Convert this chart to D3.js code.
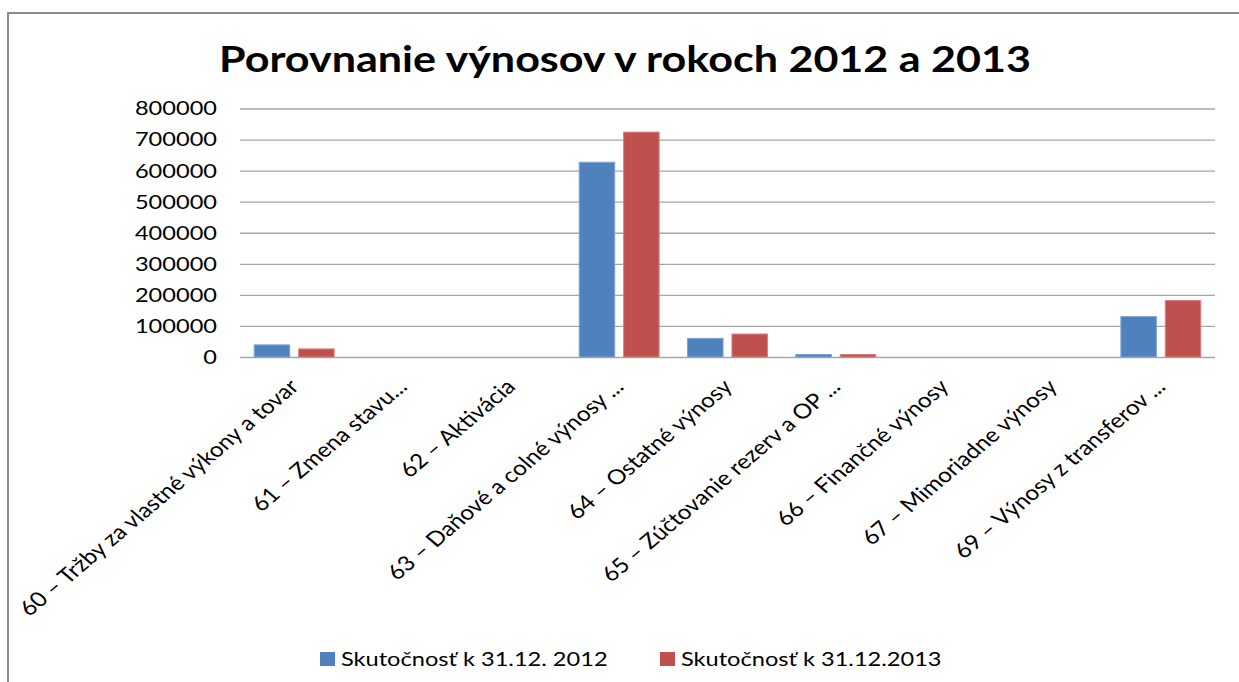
<!DOCTYPE html>
<html>
<head>
<meta charset="utf-8">
<script src="https://cdn.jsdelivr.net/npm/d3@7"></script>
<style>
  body { margin: 0; background: #fff; overflow: hidden; }
  svg { display: block; }
  text { font-family: Lato, "Open Sans", sans-serif; fill: #000; }
</style>
</head>
<body>
<div id="chart"></div>
<script>
const categories = [
  "60 – Tržby za vlastné výkony a tovar",
  "61 – Zmena stavu...",
  "62 – Aktivácia",
  "63 – Daňové a colné výnosy ...",
  "64 – Ostatné výnosy",
  "65 – Zúčtovanie rezerv a OP ...",
  "66 – Finančné výnosy",
  "67 – Mimoriadne výnosy",
  "69 – Výnosy z transferov ..."
];
const seriesNames = ["Skutočnosť k 31.12. 2012", "Skutočnosť k 31.12.2013"];
const values2012 = [39000, 0, 0, 627000, 60000, 8000, 0, 0, 130000];
const values2013 = [26000, 0, 0, 724000, 74000, 8000, 0, 0, 182000];
const yTicks = [0, 100000, 200000, 300000, 400000, 500000, 600000, 700000, 800000];
const colors = ["#4F81BD", "#C0504D"];
const strokes = ["#7fa4d3", "#d98381"];

const W = 1239, H = 682;
const stretch = 1.18; // the reference is horizontally stretched
const plot = { left: 240, right: 1215, top: 108.5, bottom: 357 };

const svg = d3.select("#chart")
  .append("svg")
  .attr("width", W)
  .attr("height", H);

// outer frame (only left and top edges are inside the picture)
svg.append("path")
  .attr("d", `M8,${H} V13 H${W}`)
  .attr("fill", "none")
  .attr("stroke", "#8c8c8c")
  .attr("stroke-width", 2);

// Title
svg.append("text")
  .attr("transform", `translate(625,72) scale(${stretch},1)`)
  .attr("text-anchor", "middle")
  .style("font-weight", "bold")
  .style("font-size", "36.5px")
  .text("Porovnanie výnosov v rokoch 2012 a 2013");

const x = d3.scaleBand()
  .domain(categories)
  .range([plot.left, plot.right]);

const xSub = d3.scaleBand()
  .domain(seriesNames)
  .range([0, x.bandwidth()])
  .paddingInner(0.2)
  .paddingOuter(0.32);

const y = d3.scaleLinear()
  .domain([0, 800000])
  .range([plot.bottom, plot.top]);

// Y axis with gridlines
const yAxis = svg.append("g")
  .attr("transform", `translate(${plot.left},0)`)
  .call(d3.axisLeft(y).tickValues(yTicks).tickSize(-(plot.right - plot.left)).tickPadding(0).tickFormat(d3.format("d")));
yAxis.select(".domain").remove();
yAxis.selectAll(".tick line")
  .attr("stroke", "#a6a6a6")
  .attr("stroke-width", 1.3);
yAxis.selectAll(".tick text")
  .attr("x", 0)
  .attr("transform", `translate(-23,0) scale(${stretch},1)`)
  .style("font-family", "Lato, sans-serif")
  .style("font-size", "20px")
  .attr("fill", "#111");

// Bars
const rows = categories.map((c, i) => ({ cat: c, vals: [values2012[i], values2013[i]] }));
const groups = svg.selectAll(".grp")
  .data(rows)
  .enter()
  .append("g")
  .attr("transform", d => `translate(${x(d.cat)},0)`);

groups.selectAll("rect")
  .data(d => d.vals.map((v, k) => ({ key: seriesNames[k], v, k })))
  .enter()
  .filter(d => d.v > 0)
  .append("rect")
  .attr("x", d => xSub(d.key))
  .attr("y", d => y(d.v))
  .attr("width", xSub.bandwidth())
  .attr("height", d => y(0) - y(d.v))
  .attr("fill", d => colors[d.k])
  .attr("stroke", d => strokes[d.k])
  .attr("stroke-width", 1);

// X labels, rotated
svg.selectAll(".xlabel")
  .data(categories)
  .enter()
  .append("text")
  .attr("class", "xlabel")
  .attr("text-anchor", "end")
  .attr("transform", d => `translate(${x(d) + x.bandwidth() / 2 + 6},388) scale(${stretch},1) rotate(-45)`)
  .style("font-size", "20.6px")
  .text(d => d);

// Legend
const legendX = [320, 660];
const legend = svg.selectAll(".legend")
  .data(seriesNames)
  .enter()
  .append("g")
  .attr("transform", (d, i) => `translate(${legendX[i]},652)`);
legend.append("rect")
  .attr("width", 15).attr("height", 14)
  .attr("fill", (d, i) => colors[i]);
legend.append("text")
  .attr("transform", `translate(21,14) scale(${stretch},1)`)
  .style("font-size", "20px")
  .attr("fill", "#222")
  .text(d => d);
</script>
</body>
</html>
